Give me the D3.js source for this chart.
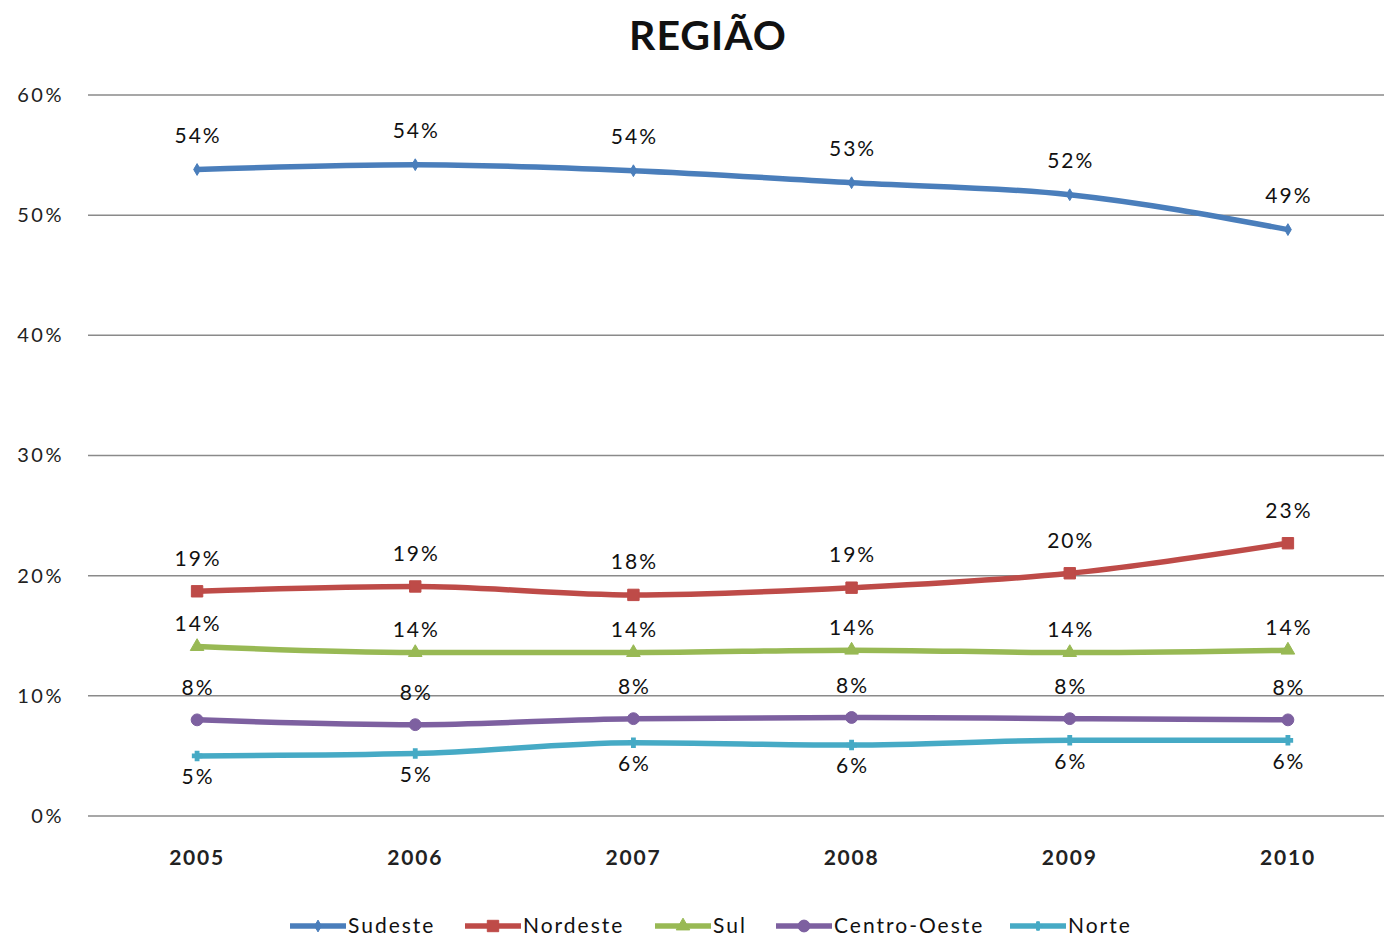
<!DOCTYPE html>
<html>
<head>
<meta charset="utf-8">
<script src="https://cdn.jsdelivr.net/npm/d3@7/dist/d3.min.js"></script>
<style>
  body { margin: 0; background: #fff; }
  text { font-family: Lato, "Open Sans", sans-serif; }
</style>
</head>
<body>
<div id="chart"></div>
<script>
var years = ["2005", "2006", "2007", "2008", "2009", "2010"];
var yTicks = [0, 0.1, 0.2, 0.3, 0.4, 0.5, 0.6];

var sudeste = [0.538, 0.542, 0.537, 0.527, 0.517, 0.488];
var nordeste = [0.187, 0.191, 0.184, 0.190, 0.202, 0.227];
var sul = [0.141, 0.136, 0.136, 0.138, 0.136, 0.138];
var centroOeste = [0.080, 0.076, 0.081, 0.082, 0.081, 0.080];
var norte = [0.050, 0.052, 0.061, 0.059, 0.063, 0.063];

var seriesNames = ["Sudeste", "Nordeste", "Sul", "Centro-Oeste", "Norte"];
var seriesValues = [sudeste, nordeste, sul, centroOeste, norte];

var colors = ["#4a7ebb", "#be4b48", "#98b954", "#7d60a0", "#46aac5"];
var symbols = [d3.symbolDiamond, d3.symbolSquare, d3.symbolTriangle, d3.symbolCircle, d3.symbolCross];
var symbolSizes = [40, 130, 80, 110, 40];
// label offset from point (negative = above)
var labelDy = [-34, -33, -23, -32, 21];

var width = 1384, height = 937;
var margin = { left: 88, right: -13, top: 95, bottom: 121 };

var svg = d3.select("#chart").append("svg")
	.attr("width", width)
	.attr("height", height);

var x = d3.scaleBand()
	.domain(years)
	.range([margin.left, width - margin.right]);

var y = d3.scaleLinear()
	.domain([0, 0.6])
	.range([height - margin.bottom, margin.top]);

// title
svg.append("text")
	.attr("x", 708)
	.attr("y", 50)
	.attr("text-anchor", "middle")
	.style("font-size", "41px")
	.style("font-weight", "bold")
	.style("letter-spacing", "1px")
	.attr("fill", "#111")
	.text("REGIÃO");

// gridlines
svg.append("g").selectAll("line")
	.data(yTicks)
	.enter().append("line")
	.attr("x1", margin.left)
	.attr("x2", width)
	.attr("y1", function (d) { return y(d); })
	.attr("y2", function (d) { return y(d); })
	.attr("stroke", "#8a8a8a")
	.attr("stroke-width", 1.5);

// y axis labels
var yAxis = d3.axisLeft(y).tickValues(yTicks).tickFormat(d3.format(".0%")).tickSize(0).tickPadding(24);
svg.append("g")
	.attr("transform", "translate(" + margin.left + ",0)")
	.call(yAxis)
	.call(function (g) { g.select(".domain").remove(); })
	.selectAll("text")
	.style("font-family", "Lato, sans-serif")
	.style("font-size", "20px")
	.style("letter-spacing", "2.5px")
	.attr("fill", "#222");

// x axis labels
var xAxis = d3.axisBottom(x).tickSize(0).tickPadding(34);
svg.append("g")
	.attr("transform", "translate(0," + y(0) + ")")
	.call(xAxis)
	.call(function (g) { g.select(".domain").remove(); })
	.selectAll("text")
	.style("font-family", "Lato, sans-serif")
	.style("font-size", "21px")
	.style("font-weight", "bold")
	.style("letter-spacing", "1.8px")
	.attr("fill", "#222");

var line = d3.line()
	.x(function (d, i) { return x(years[i]) + x.bandwidth() / 2; })
	.y(function (d) { return y(d); })
	.curve(d3.curveMonotoneX);

var fmt = d3.format(".0%");

seriesValues.forEach(function (vals, s) {
	var g = svg.append("g").attr("class", "series");
	g.append("path")
		.datum(vals)
		.attr("d", line)
		.attr("fill", "none")
		.attr("stroke", colors[s])
		.attr("stroke-width", 5.5)
		.attr("stroke-linecap", "round");

	g.selectAll(".marker")
		.data(vals)
		.enter().append("path")
		.attr("class", "marker")
		.attr("d", d3.symbol().type(symbols[s]).size(symbolSizes[s]))
		.attr("transform", function (d, i) {
			return "translate(" + (x(years[i]) + x.bandwidth() / 2) + "," + y(d) + ")";
		})
		.attr("fill", colors[s])
		.attr("stroke", colors[s])
		.attr("stroke-width", s == 4 ? 2 : 1);

	g.selectAll(".label")
		.data(vals)
		.enter().append("text")
		.attr("class", "label")
		.attr("x", function (d, i) { return x(years[i]) + x.bandwidth() / 2 + 1; })
		.attr("y", function (d) { return y(d) + labelDy[s]; })
		.attr("dy", "0.35em")
		.attr("text-anchor", "middle")
		.style("font-size", "21px")
		.style("letter-spacing", "2px")
		.attr("fill", "#111")
		.text(function (d) { return fmt(d); });
});

// legend
var legendX = [290, 465, 655, 776, 1010];
var legend = svg.append("g").attr("class", "legend");
seriesNames.forEach(function (name, s) {
	var item = legend.append("g").attr("transform", "translate(" + legendX[s] + ",926)");
	item.append("line")
		.attr("x1", 0).attr("x2", 56)
		.attr("stroke", colors[s])
		.attr("stroke-width", 5.5);
	item.append("path")
		.attr("d", d3.symbol().type(symbols[s]).size(symbolSizes[s]))
		.attr("transform", "translate(28,0)")
		.attr("fill", colors[s])
		.attr("stroke", colors[s]);
	item.append("text")
		.attr("x", 58)
		.attr("dy", "0.35em")
		.style("font-size", "21px")
		.style("letter-spacing", "2px")
		.attr("fill", "#111")
		.text(name);
});
</script>
</body>
</html>
